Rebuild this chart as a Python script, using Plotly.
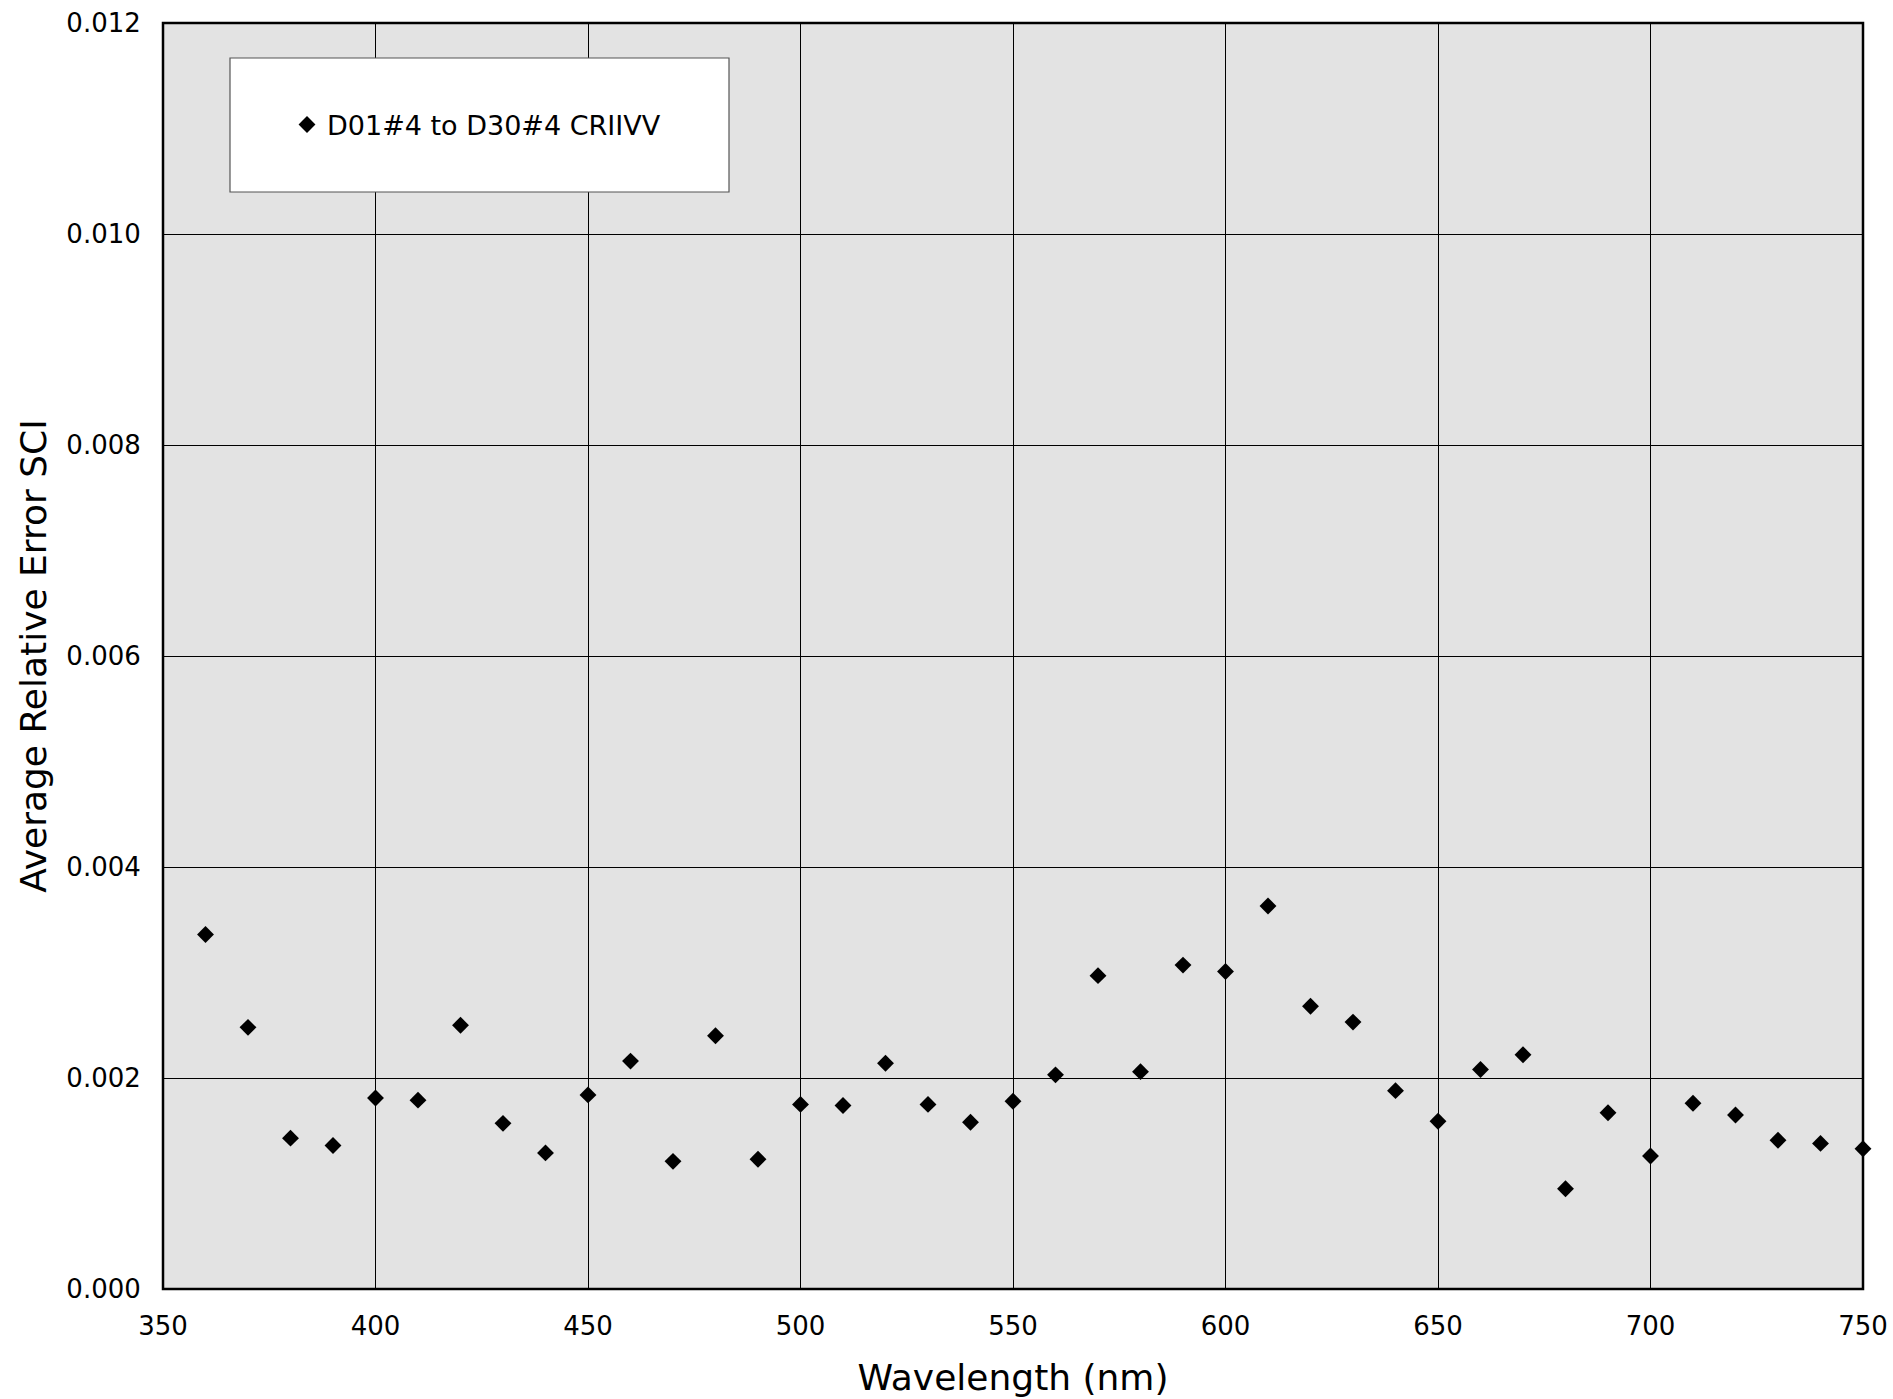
import plotly.graph_objects as go

wavelength = [360, 370, 380, 390, 400, 410, 420, 430, 440, 450, 460, 470, 480, 490,
              500, 510, 520, 530, 540, 550, 560, 570, 580, 590, 600, 610, 620, 630,
              640, 650, 660, 670, 680, 690, 700, 710, 720, 730, 740, 750]
avg_rel_error = [0.00336, 0.00248, 0.00143, 0.00136, 0.00181, 0.00179, 0.00250, 0.00157,
                 0.00129, 0.00184, 0.00216, 0.00121, 0.00240, 0.00123, 0.00175, 0.00174,
                 0.00214, 0.00175, 0.00158, 0.00178, 0.00203, 0.00297, 0.00206, 0.00307,
                 0.00301, 0.00363, 0.00268, 0.00253, 0.00188, 0.00159, 0.00208, 0.00222,
                 0.00095, 0.00167, 0.00126, 0.00176, 0.00165, 0.00141, 0.00138, 0.00133]
series_name = "D01#4 to D30#4 CRIIVV"
x_ticks = [350, 400, 450, 500, 550, 600, 650, 700, 750]
y_ticks = [0.000, 0.002, 0.004, 0.006, 0.008, 0.010, 0.012]

FONT = "DejaVu Sans"
L, R, T, B = 163, 1863, 23, 1289
PW, PH = R - L, B - T

fig = go.Figure()
fig.add_trace(go.Scatter(
    x=wavelength, y=avg_rel_error, mode="markers", name=series_name,
    marker=dict(symbol="diamond", size=13, color="black"),
    cliponaxis=False,
))

# legend frame
fig.add_shape(type="rect", xref="paper", yref="paper",
              x0=(230 - L) / PW, x1=(729 - L) / PW,
              y0=(B - 192) / PH, y1=(B - 58) / PH,
              line=dict(color="#555555", width=1.2), fillcolor="white", layer="above")
# plot frame
fig.add_shape(type="rect", xref="paper", yref="paper", x0=0, x1=1, y0=0, y1=1,
              line=dict(color="black", width=2.5), fillcolor="rgba(0,0,0,0)", layer="above")

fig.update_layout(
    width=1893, height=1399,
    margin=dict(l=L, r=1893 - R, t=T, b=1399 - B),
    paper_bgcolor="white", plot_bgcolor="#e3e3e3",
    font=dict(family=FONT, color="black", size=26),
    showlegend=True,
    legend=dict(x=(287 - L) / PW, xanchor="left", y=(B - 125) / PH, yanchor="middle",
                bgcolor="rgba(0,0,0,0)", borderwidth=0, font=dict(size=27, family=FONT)),
    xaxis=dict(range=[350, 750], tickvals=x_ticks, ticktext=[str(v) for v in x_ticks],
               automargin=False,
               showgrid=True, gridcolor="black", gridwidth=1, zeroline=False,
               showline=False,
               ticks="outside", ticklen=14, tickcolor="rgba(0,0,0,0)",
               tickfont=dict(size=26),
               title=dict(text="Wavelength (nm)", font=dict(size=36), standoff=24)),
    yaxis=dict(range=[0, 0.012], tickvals=y_ticks, ticktext=[f"{v:.3f}" for v in y_ticks],
               automargin=False,
               showgrid=True, gridcolor="black", gridwidth=1, zeroline=False,
               showline=False,
               ticks="outside", ticklen=16, tickcolor="rgba(0,0,0,0)",
               tickfont=dict(size=26),
               title=dict(text="Average Relative Error SCI", font=dict(size=36), standoff=8)),
)

fig.write_html("out.html")
